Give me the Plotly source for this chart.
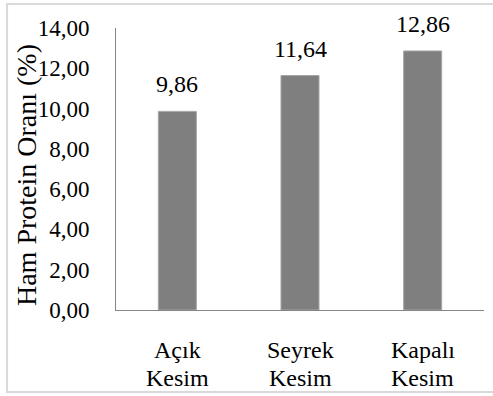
import plotly.graph_objects as go

# Crude protein ratio by cutting treatment
categories = ["Açık<br>Kesim", "Seyrek<br>Kesim", "Kapalı<br>Kesim"]
protein = [9.86, 11.64, 12.86]
y_ticks = [0, 2, 4, 6, 8, 10, 12, 14]

FONT = "Liberation Serif"
BLACK = "#000000"

fig = go.Figure(
    go.Bar(
        x=categories,
        y=protein,
        marker=dict(color="#7f7f7f", line=dict(color="#a6a6a6", width=1)),
        width=0.31,
        hoverinfo="skip",
    )
)

# value labels above each bar
for cat, val in zip(categories, protein):
    fig.add_annotation(
        x=cat, y=val, text=f"{val:.2f}".replace(".", ","),
        showarrow=False, yanchor="bottom", yshift=12,
        font=dict(family=FONT, size=24, color=BLACK),
    )

# two-line category labels under the axis, set with tight line spacing
for cat in categories:
    for i, line in enumerate(cat.split("<br>")):
        fig.add_annotation(
            x=cat, y=0, text=line, showarrow=False,
            yanchor="top", yshift=-25 - 28 * i,
            font=dict(family=FONT, size=24, color=BLACK),
        )

# y-axis title
fig.add_annotation(
    xref="paper", yref="paper", x=-0.245, y=0.478,
    text="Ham Protein Oranı (%)", textangle=-90, showarrow=False,
    xanchor="center", yanchor="middle",
    font=dict(family=FONT, size=28, color=BLACK),
)

# outer frame around the chart
fig.add_shape(
    type="rect", xref="paper", yref="paper",
    x0=-0.296, x1=1.03, y0=-0.291, y1=1.085,
    line=dict(color="#d9d9d9", width=2), fillcolor="rgba(0,0,0,0)",
)

fig.update_layout(
    width=493, height=396,
    margin=dict(l=116, r=9, t=28, b=86),
    paper_bgcolor="white", plot_bgcolor="white",
    separators=",.",
    showlegend=False,
    font=dict(family=FONT, color=BLACK),
    xaxis=dict(
        showline=True, linecolor="#868686", linewidth=1,
        ticks="", showticklabels=False, showgrid=False, automargin=False,
    ),
    yaxis=dict(
        range=[0, 14], tickvals=y_ticks, tickformat=".2f",
        showline=True, linecolor="#868686", linewidth=1,
        ticks="", tickfont=dict(family=FONT, size=23, color=BLACK),
        ticklabelstandoff=21, automargin=False,
        showgrid=False, zeroline=False,
    ),
)

fig.write_html("out.html")
